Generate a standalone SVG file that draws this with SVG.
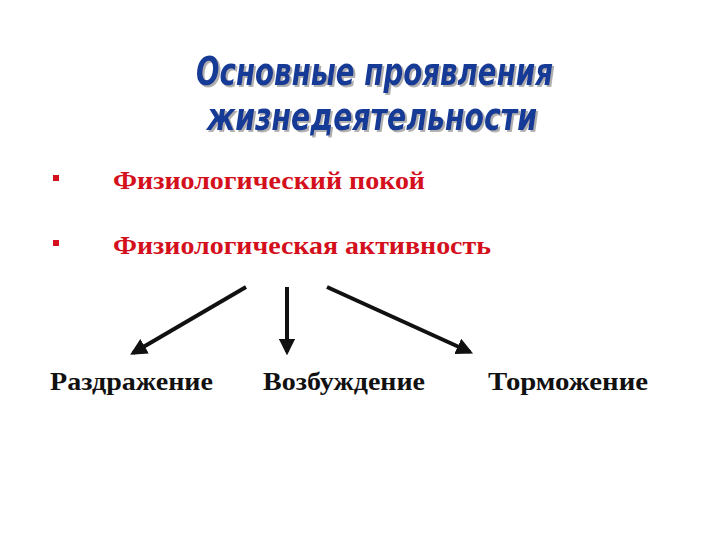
<svg xmlns="http://www.w3.org/2000/svg" width="720" height="540" viewBox="0 0 720 540">
<defs>
<style>
.title{font-family:"DejaVu Sans Condensed","DejaVu Sans",sans-serif;font-weight:bold;font-style:italic;font-size:30px;fill:#173a96;filter:url(#sh)}
.item{font-family:"Liberation Serif","Times New Roman",serif;font-weight:bold;font-size:26px;fill:#d4101c}
.lbl{font-family:"Liberation Serif","Times New Roman",serif;font-weight:bold;font-size:26px;fill:#111}
.bullet{fill:#d4101c}
.conn{stroke:#111;stroke-width:4;fill:none;marker-end:url(#ah)}
</style>
<filter id="sh" x="-5%" y="-20%" width="110%" height="140%">
<feDropShadow dx="2" dy="1.5" stdDeviation="0.6" flood-color="#9a9a9a" flood-opacity="0.8"/>
</filter>
<marker id="ah" viewBox="0 0 10 10" refX="8" refY="5" markerWidth="4.2" markerHeight="4.2" orient="auto" markerUnits="strokeWidth">
<path d="M0,0 L10,5 L0,10 z" fill="#111"/>
</marker>
</defs>
<rect width="720" height="540" fill="#fff"/>
<g id="title">
<g transform="scale(1,1.28)">
<text class="title" x="196" y="66.8" textLength="357" lengthAdjust="spacingAndGlyphs">Основные проявления</text>
<text class="title" x="207" y="101.6" textLength="330" lengthAdjust="spacingAndGlyphs">жизнедеятельности</text>
</g>
</g>
<g id="item1">
<rect class="bullet" x="53" y="175" width="6" height="6"/>
<text class="item" x="113" y="189" textLength="312" lengthAdjust="spacingAndGlyphs">Физиологический покой</text>
</g>
<g id="item2">
<rect class="bullet" x="53" y="240" width="6" height="6"/>
<text class="item" x="113" y="254" textLength="378" lengthAdjust="spacingAndGlyphs">Физиологическая активность</text>
</g>
<g id="connectors">
<line class="conn" x1="246" y1="287" x2="133" y2="353"/>
<line class="conn" x1="287" y1="287" x2="287" y2="352"/>
<line class="conn" x1="327" y1="287" x2="470" y2="352"/>
</g>
<g id="n-razdrazhenie"><text class="lbl" x="50" y="390" textLength="163" lengthAdjust="spacingAndGlyphs">Раздражение</text></g>
<g id="n-vozbuzhdenie"><text class="lbl" x="263" y="390" textLength="162" lengthAdjust="spacingAndGlyphs">Возбуждение</text></g>
<g id="n-tormozhenie"><text class="lbl" x="488" y="390" textLength="160" lengthAdjust="spacingAndGlyphs">Торможение</text></g>
</svg>
